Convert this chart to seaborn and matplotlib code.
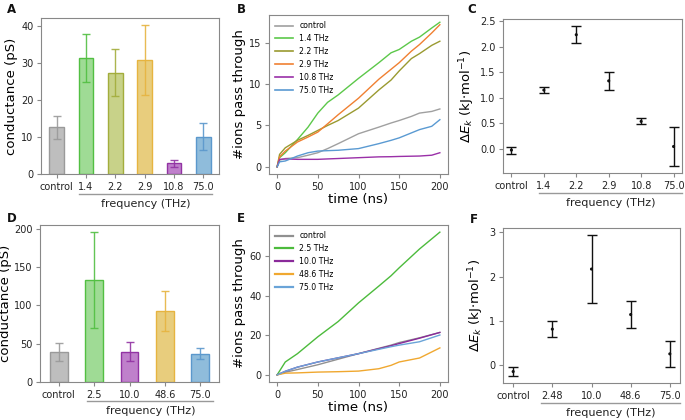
import numpy as np
import pandas as pd
import matplotlib
matplotlib.use("Agg")
import matplotlib.pyplot as plt
import seaborn as sns
from matplotlib.lines import Line2D

# ---- panel A / D : conductance bars ----
a_labels = ["control", "1.4", "2.2", "2.9", "10.8", "75.0"]
a_values = [12.6, 31.4, 27.4, 30.8, 2.9, 10.1]
a_errors = [3.2, 6.6, 6.4, 9.4, 1.0, 3.7]

d_labels = ["control", "2.5", "10.0", "48.6", "75.0"]
d_values = [39, 133, 39.5, 93, 37]
d_errors = [12, 62, 12.5, 26, 7]

# ---- panel B : ions vs time ----
b_time = [0, 3, 10, 25, 38, 50, 62, 75, 100, 125, 140, 150, 165, 175, 190, 200]
b_control = [0, 0.8, 1.0, 1.1, 1.4, 1.7, 2.2, 2.8, 4.0, 4.8, 5.3, 5.6, 6.1, 6.5, 6.7, 7.0]
b_14 = [0, 1.1, 1.7, 3.3, 4.8, 6.5, 7.8, 8.7, 10.7, 12.6, 13.8, 14.2, 15.2, 15.7, 16.8, 17.5]
b_22 = [0, 1.5, 2.3, 3.2, 3.8, 4.4, 5.0, 5.6, 7.1, 9.3, 10.5, 11.6, 13.1, 13.7, 14.7, 15.2]
b_29 = [0, 1.2, 1.9, 3.0, 3.6, 4.2, 5.2, 6.3, 8.3, 10.6, 11.8, 12.6, 14.0, 14.8, 16.2, 17.2]
b_108 = [0, 0.9, 0.95, 0.9, 0.9, 0.9, 0.95, 1.0, 1.1, 1.2, 1.22, 1.25, 1.28, 1.3, 1.4, 1.7]
b_750 = [0, 0.6, 0.7, 1.3, 1.7, 1.9, 1.95, 2.0, 2.2, 2.8, 3.2, 3.5, 4.1, 4.5, 4.9, 5.7]
b_names = ["control", "1.4 THz", "2.2 THz", "2.9 THz", "10.8 THz", "75.0 THz"]

# ---- panel E : ions vs time ----
e_time = [0, 10, 25, 50, 75, 100, 125, 140, 150, 175, 200]
e_control = [0, 1.3, 2.7, 5.1, 7.9, 10.7, 13.4, 15.0, 16.3, 18.7, 21.4]
e_25 = [0, 6.5, 10.7, 19.2, 26.9, 36.3, 44.8, 50.0, 54.0, 63.5, 72.0]
e_100 = [0, 1.8, 3.9, 6.5, 8.6, 10.7, 13.2, 14.7, 15.8, 18.5, 21.4]
e_486 = [0, 0.85, 1.0, 1.4, 1.6, 1.9, 3.1, 4.8, 6.5, 8.5, 13.6]
e_750 = [0, 1.8, 3.9, 6.5, 8.6, 10.7, 12.9, 14.2, 15.0, 16.7, 20.1]
e_names = ["control", "2.5 THz", "10.0 THz", "48.6 THz", "75.0 THz"]

# ---- panel C / F : delta E_k ----
c_labels = ["control", "1.4", "2.2", "2.9", "10.8", "75.0"]
c_values = [-0.02, 1.15, 2.23, 1.33, 0.54, 0.05]
c_errors = [0.07, 0.06, 0.17, 0.17, 0.06, 0.38]

f_labels = ["control", "2.48", "10.0", "48.6", "75.0"]
f_values = [-0.15, 0.81, 2.17, 1.14, 0.25]
f_errors = [0.10, 0.18, 0.77, 0.30, 0.30]

# colours
gray, green, olive, yellow, purple, blue = (
    "#9a9a9a", "#52bf42", "#a3ad3c", "#e6b440", "#9233a3", "#5b98cc")
face = {"gray": "#bebebe", "green": "#9fdb95", "olive": "#c8d289",
        "yellow": "#e8cd7d", "purple": "#bf80cb", "blue": "#8fbcdb"}

plt.rcParams["font.family"] = ["DejaVu Sans"]
plt.rcParams["axes.edgecolor"] = "#888888"
plt.rcParams["xtick.color"] = "#888888"
plt.rcParams["ytick.color"] = "#888888"
plt.rcParams["xtick.labelcolor"] = "#222222"
plt.rcParams["ytick.labelcolor"] = "#222222"
plt.rcParams["xtick.labelsize"] = 7
plt.rcParams["ytick.labelsize"] = 7
plt.rcParams["xtick.major.size"] = 3
plt.rcParams["ytick.major.size"] = 3
plt.rcParams["xtick.major.pad"] = 2.5
plt.rcParams["ytick.major.pad"] = 2.5

W, H = 685, 420
fig = plt.figure(figsize=(W / 100, H / 100), dpi=100)


def add_axes(x0, y0, x1, y1):
    return fig.add_axes([x0 / W, 1 - y1 / H, (x1 - x0) / W, (y1 - y0) / H])


def freq_line(ax, f0, f1, ypx_line, ypx_text):
    bbox = ax.get_position()
    x0 = bbox.x0 + f0 * bbox.width
    x1 = bbox.x0 + f1 * bbox.width
    fig.add_artist(Line2D([x0, x1], [1 - ypx_line / H] * 2,
                          color="#999999", lw=1, transform=fig.transFigure))
    fig.text((x0 + x1) / 2, 1 - ypx_text / H, "frequency (THz)",
             ha="center", va="center", fontsize=8, color="#222222")


def bars(ax, labels, values, errors, fcols, ecols):
    sns.barplot(x=labels, y=values, hue=labels, palette=fcols, legend=False,
                ax=ax, width=0.5, linewidth=1, saturation=1)
    for p, ec in zip(ax.patches, ecols):
        p.set_edgecolor(ec)
    for i, (v, e, ec) in enumerate(zip(values, errors, ecols)):
        ax.errorbar(i, v, yerr=e, fmt="none", ecolor=ec, elinewidth=1,
                    capsize=3, capthick=1, alpha=0.9)
    ax.set_xlim(-0.53, len(labels) - 0.47)
    ax.set_ylabel("conductance (pS)", fontsize=9.5, labelpad=2)
    ax.set_xlabel("")


# A
axA = add_axes(41, 18, 219, 174)
bars(axA, a_labels, a_values, a_errors,
     [face[k] for k in ["gray", "green", "olive", "yellow", "purple", "blue"]],
     [gray, green, olive, yellow, purple, blue])
freq_line(axA, 0.213, 0.963, 194, 204)

# D
axD = add_axes(40, 225, 219, 382)
bars(axD, d_labels, d_values, d_errors,
     [face[k] for k in ["gray", "green", "purple", "yellow", "blue"]],
     [gray, green, purple, yellow, blue])
axD.set_yticks([0, 50, 100, 150, 200])
axD.set_ylabel("conductance (pS)", fontsize=9.5, labelpad=1)
freq_line(axD, 0.264, 0.968, 401, 411)


def lines(ax, time, series, names, colors, lw_leg):
    frames = [pd.DataFrame({"time": time, "ions": s, "run": n})
              for s, n in zip(series, names)]
    df = pd.concat(frames)
    sns.lineplot(data=df, x="time", y="ions", hue="run", hue_order=names,
                 palette=dict(zip(names, colors)), linewidth=1, ax=ax)
    leg = ax.legend(loc="upper left", frameon=False, fontsize=5.6,
                    handlelength=2.3, labelspacing=0.5,
                    borderaxespad=0.4)
    for h in leg.get_lines():
        h.set_linewidth(lw_leg)
    ax.set_xlabel("time (ns)", fontsize=9.5, labelpad=1)
    ax.set_ylabel("#ions pass through", fontsize=9.5, labelpad=2)
    ax.set_xticks([0, 50, 100, 150, 200])
    ax.set_xlim(-10, 210)


# B
axB = add_axes(269, 15, 448, 174)
lines(axB, b_time, [b_control, b_14, b_22, b_29, b_108, b_750], b_names,
      ["#a0a0a0", "#5cc84a", "#9a9a30", "#f08032", "#9a30a8", "#5a9ad2"], 1.2)
axB.set_yticks([0, 5, 10, 15])

# E
axE = add_axes(269, 225, 448, 382)
lines(axE, e_time, [e_control, e_25, e_100, e_486, e_750], e_names,
      ["#909090", "#4cbb3c", "#8a2a9a", "#f0a830", "#6aa4d8"], 1.6)
axE.set_yticks([0, 20, 40, 60])


def dots(ax, labels, values, errors):
    x = np.arange(len(labels))
    ax.errorbar(x, values, yerr=errors, fmt="none", ecolor="#111111",
                elinewidth=1, capsize=3.5, capthick=1)
    sns.scatterplot(x=x, y=values, color="#111111", s=5, ax=ax,
                    edgecolor="none", zorder=3)
    ax.set_xticks(x)
    ax.set_xticklabels(labels)
    ax.set_ylabel(r"$\Delta E_k$ (kJ$\cdot$mol$^{-1}$)", fontsize=9.5,
                  labelpad=2)
    ax.set_xlim(-0.26, len(labels) - 0.74)


# C
axC = add_axes(503, 19, 682, 173)
dots(axC, c_labels, c_values, c_errors)
axC.set_yticks([0.0, 0.5, 1.0, 1.5, 2.0, 2.5])
axC.set_yticklabels(["0.0", "0.5", "1.0", "1.5", "2.0", "2.5"])
freq_line(axC, 0.2, 1.0, 193, 203)

# F
axF = add_axes(503, 228, 680, 383)
dots(axF, f_labels, f_values, f_errors)
axF.set_yticks([0, 1, 2, 3])
freq_line(axF, 0.217, 1.0, 403, 413)

# panel letters
for letter, (px, py) in zip("ABCDEF", [(7, 3), (237, 3), (467, 3),
                                      (7, 212), (237, 212), (470, 213)]):
    fig.text(px / W, 1 - py / H, letter, fontsize=8.5, fontweight="bold",
             ha="left", va="top", color="#111111")

fig.savefig("out.png", dpi=100)
